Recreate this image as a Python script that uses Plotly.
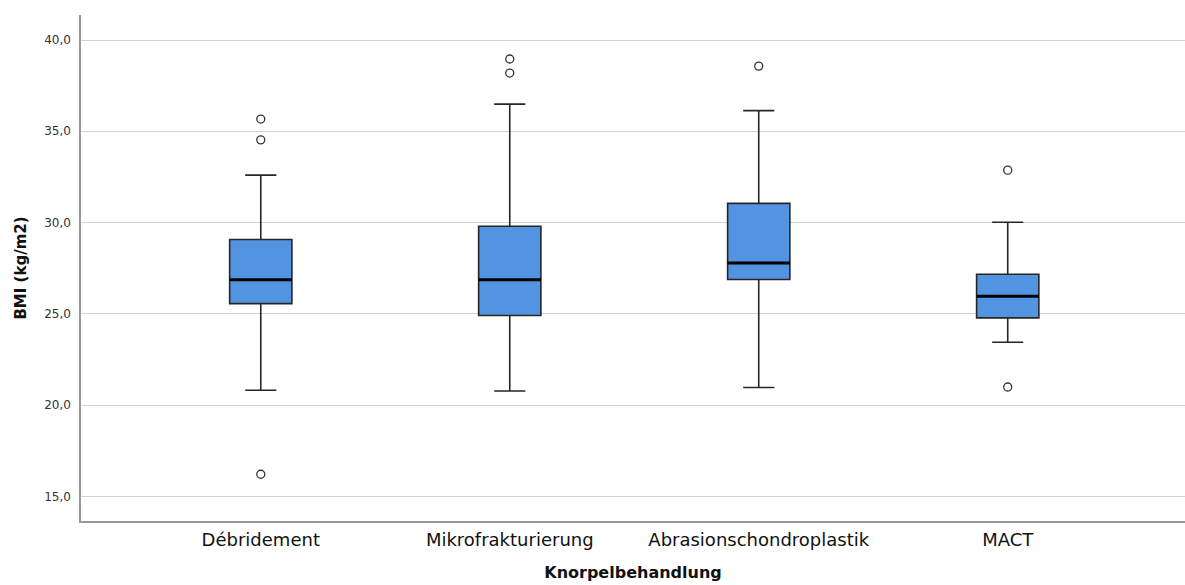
import plotly.graph_objects as go

# BMI by cartilage treatment group (box statistics)
categories = ["Débridement", "Mikrofrakturierung", "Abrasionschondroplastik", "MACT"]
q1 = [25.56, 24.91, 26.88, 24.78]
median = [26.86, 26.86, 27.79, 25.96]
q3 = [29.07, 29.80, 31.05, 27.17]
lower_whisker = [20.81, 20.77, 20.96, 23.44]
upper_whisker = [32.60, 36.49, 36.13, 30.02]
outliers = [
    [35.67, 34.53, 16.21],
    [38.96, 38.19],
    [38.57],
    [32.87, 20.99],
]

box_width = 0.25
fill = "#5294E2"
edge = "#262626"

fig = go.Figure()

for i, name in enumerate(categories):
    fig.add_trace(go.Box(
        x=[i], q1=[q1[i]], median=[median[i]], q3=[q3[i]],
        lowerfence=[lower_whisker[i]], upperfence=[upper_whisker[i]],
        width=box_width, whiskerwidth=0.5,
        fillcolor=fill, line=dict(color=edge, width=1.6),
        name=name, showlegend=False, hoverinfo="skip",
    ))

# thick median bars
mx, my = [], []
for i, m in enumerate(median):
    mx += [i - box_width / 2, i + box_width / 2, None]
    my += [m, m, None]
fig.add_trace(go.Scatter(
    x=mx, y=my, mode="lines", line=dict(color="#000000", width=3),
    showlegend=False, hoverinfo="skip",
))

# outlier circles
ox, oy = [], []
for i, vals in enumerate(outliers):
    ox += [i] * len(vals)
    oy += vals
fig.add_trace(go.Scatter(
    x=ox, y=oy, mode="markers",
    marker=dict(symbol="circle-open", size=8, color="#333333", line=dict(width=1.3)),
    showlegend=False, hoverinfo="skip",
))

fig.update_layout(
    width=1185, height=585,
    margin=dict(l=81, r=0, t=15, b=64),
    paper_bgcolor="white", plot_bgcolor="white",
    font=dict(family="DejaVu Sans, sans-serif", color="#222222"),
)
fig.update_xaxes(
    range=[-0.722, 3.712],
    tickvals=list(range(len(categories))), ticktext=categories,
    tickfont=dict(size=18, color="#111111"),
    showgrid=False, zeroline=False,
    showline=True, linecolor="#9a9a9a", linewidth=2,
    ticks="", ticklabelstandoff=1,
    title=dict(text="<b>Knorpelbehandlung</b>", font=dict(size=16, color="#111111"), standoff=18),
)
fig.update_yaxes(
    range=[13.65, 41.37],
    tickvals=[15, 20, 25, 30, 35, 40],
    ticktext=["15,0", "20,0", "25,0", "30,0", "35,0", "40,0"],
    tickfont=dict(size=12, color="#333333"),
    showgrid=True, gridcolor="#d3d3d3", gridwidth=1.3,
    zeroline=False,
    showline=True, linecolor="#9a9a9a", linewidth=1.5,
    ticks="", ticklabelstandoff=6,
    title=dict(text="<b>BMI (kg/m2)</b>", font=dict(size=15, color="#111111"), standoff=14),
)

fig.write_html("out.html")
